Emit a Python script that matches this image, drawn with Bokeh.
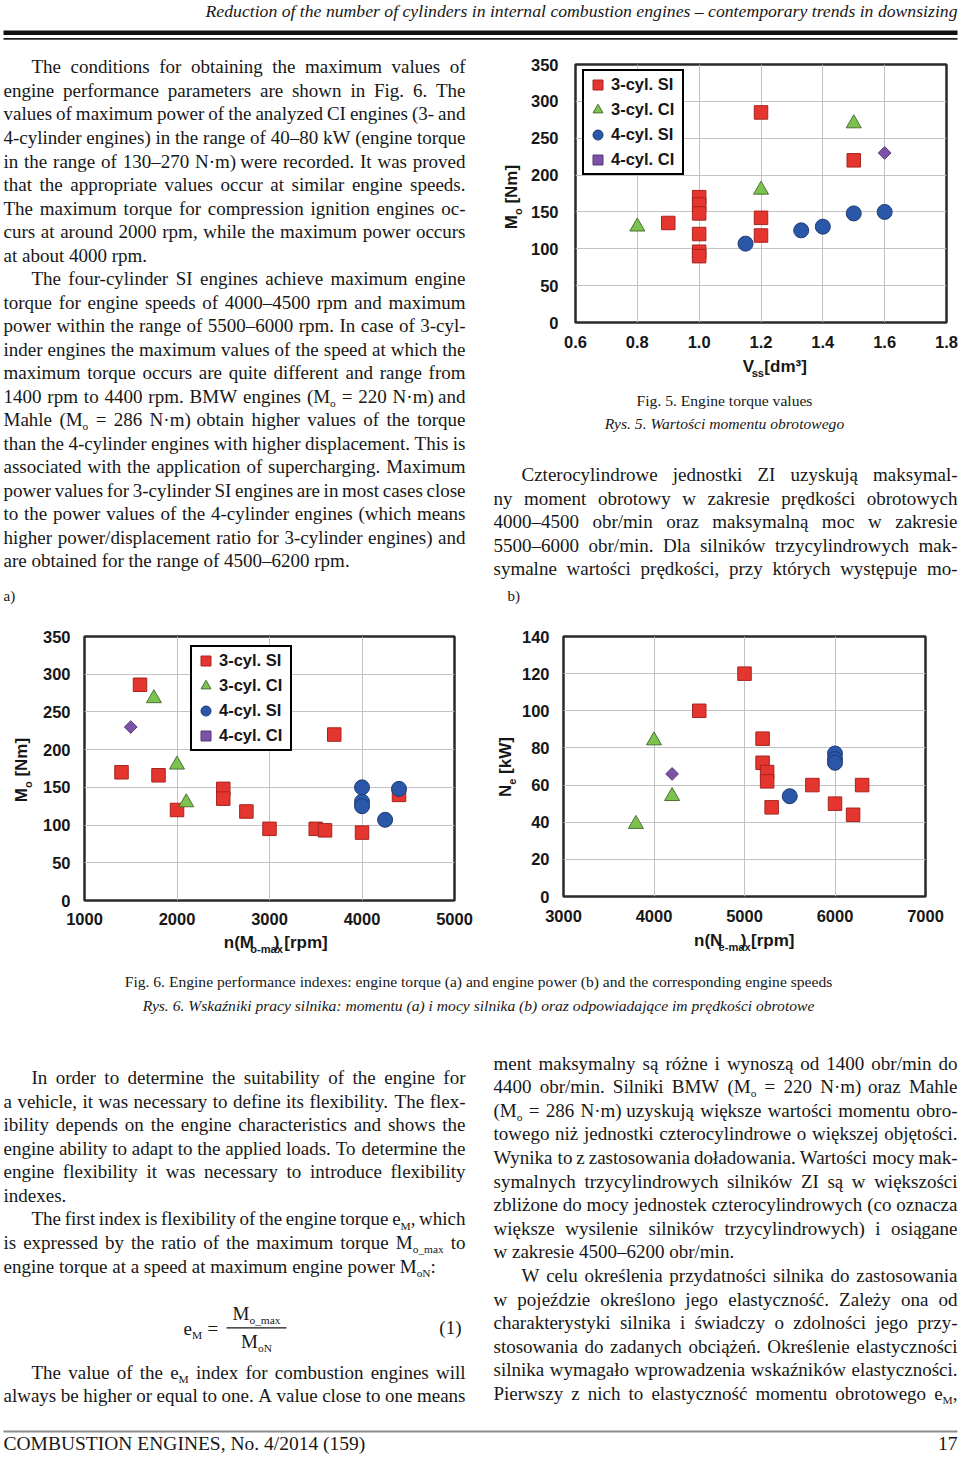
import re
import math
from bokeh.plotting import figure
from bokeh.models import (Range1d, ColumnDataSource, Legend, LegendItem,
                          FixedTicker, NumeralTickFormatter)
from bokeh.layouts import row, column
from bokeh.core.properties import value
from bokeh.embed import file_html
from bokeh.resources import INLINE

# ---------------------------------------------------------------- chart data
series_names = ["3-cyl. SI", "3-cyl. CI", "4-cyl. SI", "4-cyl. CI"]

# Fig. 5  engine torque [Nm] vs displacement [dm3]
f5_si3_v = [0.9, 1.0, 1.0, 1.0, 1.0, 1.0, 1.0, 1.2, 1.2, 1.2, 1.5]
f5_si3_m = [135, 170, 160, 148, 120, 96, 90, 285, 142, 118, 220]
f5_ci3_v = [0.8, 1.2, 1.5]
f5_ci3_m = [130, 180, 270]
f5_si4_v = [1.15, 1.33, 1.4, 1.5, 1.6]
f5_si4_m = [107, 125, 130, 148, 150]
f5_ci4_v = [1.6]
f5_ci4_m = [230]
f5_xticks = [0.6, 0.8, 1.0, 1.2, 1.4, 1.6, 1.8]
f5_yticks = [0, 50, 100, 150, 200, 250, 300, 350]

# Fig. 6a  max torque [Nm] vs speed of max torque [rpm]
a_si3_n = [1400, 1600, 1800, 2000, 2500, 2500, 2750, 3000, 3500, 3600, 3700, 4000, 4400]
a_si3_m = [170, 286, 166, 120, 148, 135, 118, 95, 95, 93, 220, 90, 140]
a_ci3_n = [1750, 2000, 2100]
a_ci3_m = [268, 180, 130]
a_si4_n = [4000, 4000, 4000, 4250, 4400]
a_si4_m = [150, 131, 125, 107, 148]
a_ci4_n = [1500]
a_ci4_m = [230]
a_xticks = [1000, 2000, 3000, 4000, 5000]
a_yticks = [0, 50, 100, 150, 200, 250, 300, 350]

# Fig. 6b  max power [kW] vs speed of max power [rpm]
b_si3_n = [4500, 5000, 5200, 5200, 5250, 5250, 5300, 5750, 6000, 6200, 6300]
b_si3_p = [100, 120, 85, 72, 67, 62, 48, 60, 50, 44, 60]
b_ci3_n = [3800, 4000, 4200]
b_ci3_p = [39, 84, 54]
b_si4_n = [5500, 6000, 6000, 6000]
b_si4_p = [54, 77, 74, 72]
b_ci4_n = [4200]
b_ci4_p = [66]
b_xticks = [3000, 4000, 5000, 6000, 7000]
b_yticks = [0, 20, 40, 60, 80, 100, 120, 140]

# ---------------------------------------------------------------- page text
header_text = ("Reduction of the number of cylinders in internal combustion "
               "engines – contemporary trends in downsizing")

left_top_lines = [
    "> The conditions for obtaining the maximum values of",
    "engine performance parameters are shown in Fig. 6. The",
    "values of maximum power of the analyzed CI engines (3- and",
    "4-cylinder engines) in the range of 40–80 kW (engine torque",
    "in the range of 130–270 N·m) were recorded. It was proved",
    "that the appropriate values occur at similar engine speeds.",
    "The maximum torque for compression ignition engines oc-",
    "curs at around 2000 rpm, while the maximum power occurs",
    "at about 4000 rpm. ¶",
    "> The four-cylinder SI engines achieve maximum engine",
    "torque for engine speeds of 4000–4500 rpm and maximum",
    "power within the range of 5500–6000 rpm. In case of 3-cyl-",
    "inder engines the maximum values of the speed at which the",
    "maximum torque occurs are quite different and range from",
    "1400 rpm to 4400 rpm. BMW engines (M_{o} = 220 N·m) and",
    "Mahle (M_{o} = 286 N·m) obtain higher values of the torque",
    "than the 4-cylinder engines with higher displacement. This is",
    "associated with the application of supercharging. Maximum",
    "power values for 3-cylinder SI engines are in most cases close",
    "to the power values of the 4-cylinder engines (which means",
    "higher power/displacement ratio for 3-cylinder engines) and",
    "are obtained for the range of 4500–6200 rpm. ¶",
]

right_top_lines = [
    "> Czterocylindrowe jednostki ZI uzyskują maksymal-",
    "ny moment obrotowy w zakresie prędkości obrotowych",
    "4000–4500 obr/min oraz maksymalną moc w zakresie",
    "5500–6000 obr/min. Dla silników trzycylindrowych mak-",
    "symalne wartości prędkości, przy których występuje mo-",
]

fig5_caption = "Fig. 5. Engine torque values"
fig5_caption_pl = "Rys. 5. Wartości momentu obrotowego"
fig6_caption = ("Fig. 6. Engine performance indexes: engine torque (a) and engine "
                "power (b) and the corresponding engine speeds")
fig6_caption_pl = ("Rys. 6. Wskaźniki pracy silnika: momentu (a) i mocy silnika (b) "
                   "oraz odpowiadające im prędkości obrotowe")

left_bottom_lines = [
    "> In order to determine the suitability of the engine for",
    "a vehicle, it was necessary to define its flexibility. The flex-",
    "ibility depends on the engine characteristics and shows the",
    "engine ability to adapt to the applied loads. To determine the",
    "engine flexibility it was necessary to introduce flexibility",
    "indexes. ¶",
    "> The first index is flexibility of the engine torque e_{M}, which",
    "is expressed by the ratio of the maximum torque M_{o_max} to",
    "engine torque at a speed at maximum engine power M_{oN}: ¶",
]
left_bottom_lines2 = [
    "> The value of the e_{M} index for combustion engines will",
    "always be higher or equal to one. A value close to one means",
]
right_bottom_lines = [
    "ment maksymalny są różne i wynoszą od 1400 obr/min do",
    "4400 obr/min. Silniki BMW (M_{o} = 220 N·m) oraz Mahle",
    "(M_{o} = 286 N·m) uzyskują większe wartości momentu obro-",
    "towego niż jednostki czterocylindrowe o większej objętości.",
    "Wynika to z zastosowania doładowania. Wartości mocy mak-",
    "symalnych trzycylindrowych silników ZI są w większości",
    "zbliżone do mocy jednostek czterocylindrowych (co oznacza",
    "większe wysilenie silników trzycylindrowych) i osiągane",
    "w zakresie 4500–6200 obr/min. ¶",
    "> W celu określenia przydatności silnika do zastosowania",
    "w pojeździe określono jego elastyczność. Zależy ona od",
    "charakterystyki silnika i świadczy o zdolności jego przy-",
    "stosowania do zadanych obciążeń. Określenie elastyczności",
    "silnika wymagało wprowadzenia wskaźników elastyczności.",
    "Pierwszy z nich to elastyczność momentu obrotowego e_{M},",
]
footer_left = "COMBUSTION ENGINES, No. 4/2014 (159)"
footer_right = "17"

# ---------------------------------------------------------------- helpers
SX = 960 / 960
SY = 1458 / 1462


def PX(v):
    return int(round(v * SX))


def PY(v):
    return int(round(v * SY))


INK = "#171717"
SERIF = "Liberation Serif"
SANS = "Liberation Sans"
BODY = 19.0
SUBR = 0.6
KB = 0.34   # baseline correction (fraction of font size)

TIMES = {" ": 250, "!": 333, "(": 333, ")": 333, ",": 250, "-": 333, ".": 250,
         "/": 278, ":": 278, ";": 278, "=": 564, "?": 444, "–": 500, "·": 250,
         "A": 722, "B": 667, "C": 667, "D": 722, "E": 611, "F": 556, "G": 722,
         "H": 722, "I": 333, "J": 389, "K": 722, "L": 611, "M": 889, "N": 722,
         "O": 722, "P": 556, "Q": 722, "R": 667, "S": 556, "T": 611, "U": 722,
         "V": 722, "W": 944, "X": 722, "Y": 722, "Z": 611, "_": 500,
         "a": 444, "b": 500, "c": 444, "d": 500, "e": 444, "f": 333, "g": 500,
         "h": 500, "i": 278, "j": 278, "k": 500, "l": 278, "m": 778, "n": 500,
         "o": 500, "p": 500, "q": 500, "r": 333, "s": 389, "t": 278, "u": 500,
         "v": 500, "w": 722, "x": 500, "y": 500, "z": 444,
         "ą": 444, "ę": 444, "ć": 444, "ł": 278, "ń": 500, "ó": 500, "ś": 389,
         "ź": 444, "ż": 444, "Ł": 611, "Ś": 556, "Ż": 611, "Ó": 722}
SANSB = {" ": 278, "(": 333, ")": 333, "-": 333, ".": 278, "[": 333, "]": 333,
         "³": 333, "C": 722, "I": 278, "M": 833, "N": 722, "S": 667, "V": 667,
         "W": 944, "a": 556, "c": 556, "d": 611, "e": 556, "k": 556, "l": 278,
         "m": 889, "n": 611, "o": 611, "p": 611, "r": 389, "s": 556, "x": 556,
         "y": 556}


def tw(s, table=TIMES):
    return sum(table.get(c, 500) for c in s) / 1000.0


def parse(word):
    parts = re.split(r"_\{(.*?)\}", word)
    return [(t, i % 2 == 1) for i, t in enumerate(parts) if t]


class Layer:
    def __init__(self, sx, sy):
        self.groups = {}
        self.sx = sx
        self.sy = sy

    def add(self, x, y, text, font=SERIF, size=BODY, style="normal",
            align="left", angle=0.0, color=INK):
        if angle == 0.0:
            y = y - KB * size / self.sy
        else:
            x = x - KB * size / self.sx
        key = (font, round(size, 2), style, align, angle, color)
        g = self.groups.setdefault(key, {"x": [], "y": [], "text": []})
        g["x"].append(x)
        g["y"].append(y)
        g["text"].append(text)

    def draw(self, p):
        for (font, size, style, align, angle, color), g in self.groups.items():
            p.text(x="x", y="y", text="text", source=ColumnDataSource(g),
                   text_font=value(font), text_font_size=value(f"{size}px"),
                   text_font_style=value(style), text_align=value(align),
                   text_baseline=value("alphabetic"), angle=angle,
                   text_color=value(color))


def text_fig(x0, x1, y0, y1):
    w = PX(x1) - PX(x0)
    h = PY(y1) - PY(y0)
    p = figure(width=w, height=h, x_range=Range1d(x0, x1), y_range=Range1d(y1, y0),
               output_backend="svg", toolbar_location=None, title=None,
               x_axis_location=None, y_axis_location=None, min_border=0)
    p.grid.visible = False
    p.outline_line_color = None
    p.background_fill_color = "white"
    p.border_fill_color = "white"
    return p, w / (x1 - x0), h / (y1 - y0)


def paragraph(L, lines, x0, x1, y_first, pitch, fs_px=BODY, indent=28):
    fsx = fs_px / L.sx
    fsy = fs_px / L.sy
    for i, raw in enumerate(lines):
        ind = raw.startswith("> ")
        last = raw.endswith(" ¶")
        txt = raw[2:] if ind else raw
        if last:
            txt = txt[:-2]
        words = [parse(w) for w in txt.split(" ")]
        ws = [sum(tw(t) * fsx * (SUBR if s else 1) for t, s in w) for w in words]
        start = x0 + (indent if ind else 0)
        if last or len(words) < 2:
            gap = 0.25 * fsx
        else:
            gap = (x1 - start - sum(ws)) / (len(words) - 1)
        yb = y_first + i * pitch
        x = start
        for w, wd in zip(words, ws):
            xx = x
            for t, s in w:
                if s:
                    L.add(xx, yb + 0.22 * fsy, t, size=round(fs_px * SUBR, 1))
                else:
                    L.add(xx, yb, t, size=fs_px)
                xx += tw(t) * fsx * (SUBR if s else 1)
            x += wd + gap


def vlabel(L, c, base, segs, size):
    """Rotated (bottom-to-top) axis label with a subscript."""
    sx, sy = L.sx, L.sy
    subsz = round(size * 0.65, 1)
    widths = [tw(t, SANSB) * size / sy * (0.65 if s else 1) for t, s in segs]
    pos = c + sum(widths) / 2
    for (t, s), w in zip(segs, widths):
        fs = subsz if s else size
        lead = len(t) - len(t.lstrip(" "))
        shift = lead * 0.278 * fs / sy
        xx = base + (0.24 * size / sx if s else 0)
        L.add(xx, pos - shift, t.lstrip(" "), font=SANS, size=fs, style="bold",
              angle=math.pi / 2)
        pos -= w


def hlabel(L, base, head, head_end, sub, sub_end, tail, tail_end, size):
    """Horizontal axis label; every part is anchored at its right end."""
    L.add(head_end, base, head, font=SANS, size=size, style="bold", align="right")
    L.add(sub_end, base + 0.24 * size / L.sy, sub, font=SANS, size=round(size * 0.65, 1),
          style="bold", align="right")
    L.add(tail_end, base, tail, font=SANS, size=size, style="bold", align="right")


STYLES = [
    dict(marker="square", size=13.5, fill_color="#e5352f", line_color="#a82420", angle=0.0),
    dict(marker="triangle", size=15, fill_color="#7cc24e", line_color="#4d7036", angle=0.0),
    dict(marker="circle", size=15, fill_color="#2b57a8", line_color="#1d3c78", angle=0.0),
    dict(marker="square", size=9, fill_color="#7b52a6", line_color="#573a7c", angle=math.pi / 4),
]


def chart(box, frame, xr, yr, xticks, yticks, xfmt, series, xstand, ystand, legend_at=None):
    x0, x1, y0, y1 = box
    fx0, fx1, fy0, fy1 = frame
    p = figure(width=PX(x1) - PX(x0), height=PY(y1) - PY(y0),
               x_range=Range1d(*xr), y_range=Range1d(*yr),
               output_backend="svg", toolbar_location=None, title=None,
               min_border_left=PX(fx0) - PX(x0), min_border_right=PX(x1) - PX(fx1),
               min_border_top=PY(fy0) - PY(y0), min_border_bottom=PY(y1) - PY(fy1))
    p.background_fill_color = "white"
    p.border_fill_color = "white"
    p.xaxis.ticker = FixedTicker(ticks=xticks)
    p.yaxis.ticker = FixedTicker(ticks=yticks)
    if xfmt:
        p.xaxis.formatter = NumeralTickFormatter(format=xfmt)
    for ax in p.axis:
        ax.axis_line_color = None
        ax.major_tick_line_color = None
        ax.minor_tick_line_color = None
        ax.major_tick_out = 0
        ax.major_tick_in = 0
        ax.minor_tick_out = 0
        ax.minor_tick_in = 0
        ax.major_label_text_font = SANS
        ax.major_label_text_font_size = "16.5px"
        ax.major_label_text_font_style = "bold"
        ax.major_label_text_color = INK
    p.xaxis.major_label_standoff = xstand
    p.yaxis.major_label_standoff = ystand
    p.grid.grid_line_color = "#c3c3c3"
    p.grid.grid_line_width = 1
    p.outline_line_color = "#2a2a2a"
    p.outline_line_width = 2.5
    rends = []
    for (xs, ys), st in zip(series, STYLES):
        src = ColumnDataSource(dict(x=xs, y=ys))
        r = p.scatter(x="x", y="y", source=src, marker=st["marker"], size=st["size"],
                      fill_color=st["fill_color"], line_color=st["line_color"],
                      line_width=1, angle=st["angle"])
        rends.append(r)
    if legend_at is not None:
        items = [LegendItem(label=n, renderers=[r]) for n, r in zip(series_names, rends)]
        lg = Legend(items=items, location=legend_at, border_line_color="black",
                    border_line_width=2, border_line_alpha=1, background_fill_color="white",
                    background_fill_alpha=1, padding=1, spacing=0, margin=0,
                    glyph_width=25, glyph_height=25, label_height=25, label_width=70,
                    label_standoff=1,
                    label_text_font=SANS, label_text_font_size="16.5px",
                    label_text_font_style="bold", label_text_color=INK)
        p.add_layout(lg)
    return p


# ---------------------------------------------------------------- header
hdr, hsx, hsy = text_fig(0, 960, 0, 48)
L = Layer(hsx, hsy)
L.add(957, 16.5, header_text, size=17.7, style="italic", align="right")
L.draw(hdr)
hdr.quad(left=[3], right=[957], top=[30], bottom=[34.5], fill_color="#111111", line_color=None)
hdr.quad(left=[3], right=[957], top=[37.6], bottom=[39.3], fill_color="#222222", line_color=None)

# ---------------------------------------------------------------- section 1 left text
lt, lsx, lsy = text_fig(0, 485, 48, 612)
L = Layer(lsx, lsy)
paragraph(L, left_top_lines, 3, 465, 73.0, 23.6)
L.add(3, 603, "a)", size=15)
L.draw(lt)

# ---------------------------------------------------------------- Fig. 5
c5 = chart((527, 960, 48, 356), (575, 946, 64, 323), (0.6, 1.8), (0, 350),
           f5_xticks, f5_yticks, "0.0",
           [(f5_si3_v, f5_si3_m), (f5_ci3_v, f5_ci3_m), (f5_si4_v, f5_si4_m), (f5_ci4_v, f5_ci4_m)],
           13, 17, legend_at=(PX(582) - PX(575), PY(323) - PY(175)))
y5, y5sx, y5sy = text_fig(485, 527, 48, 380)
L = Layer(y5sx, y5sy)
vlabel(L, 197, 517, [("M", False), ("o", True), (" [Nm]", False)], 17)
L.draw(y5)
x5, x5sx, x5sy = text_fig(527, 960, 356, 380)
L = Layer(x5sx, x5sy)
hlabel(L, 373, "V", 735.5, "ss", 747, "[dm³]", 797, 17)
L.draw(x5)

rt, rsx, rsy = text_fig(485, 960, 380, 612)
L = Layer(rsx, rsy)
L.add(724, 406, fig5_caption, size=15.6, align="center")
L.add(724, 430, fig5_caption_pl, size=15.6, style="italic", align="center")
paragraph(L, right_top_lines, 493, 957, 482.0, 23.7)
L.add(507, 603, "b)", size=15)
L.draw(rt)

# ---------------------------------------------------------------- Fig. 6a
ca = chart((38, 480, 612, 933), (84, 454, 638, 902), (1000, 5000), (0, 350),
           a_xticks, a_yticks, None,
           [(a_si3_n, a_si3_m), (a_ci3_n, a_ci3_m), (a_si4_n, a_si4_m), (a_ci4_n, a_ci4_m)],
           12, 14, legend_at=(PX(190) - PX(84), PY(902) - PY(753)))
ya, yasx, yasy = text_fig(0, 38, 612, 965)
L = Layer(yasx, yasy)
vlabel(L, 772, 27, [("M", False), ("o", True), (" [Nm]", False)], 17)
L.draw(ya)
xa, xasx, xasy = text_fig(38, 480, 933, 965)
L = Layer(xasx, xasy)
hlabel(L, 951, "n(M", 240.5, "o-max", 275, ") [rpm]", 328.5, 17)
L.draw(xa)

# ---------------------------------------------------------------- Fig. 6b
cb = chart((518, 960, 612, 933), (561, 925, 638, 898), (3000, 7000), (0, 140),
           b_xticks, b_yticks, None,
           [(b_si3_n, b_si3_p), (b_ci3_n, b_ci3_p), (b_si4_n, b_si4_p), (b_ci4_n, b_ci4_p)],
           13, 14)
yb_, ybsx, ybsy = text_fig(480, 518, 612, 965)
L = Layer(ybsx, ybsy)
vlabel(L, 769, 511, [("N", False), ("e", True), (" [kW]", False)], 17)
L.draw(yb_)
xb, xbsx, xbsy = text_fig(518, 960, 933, 965)
L = Layer(xbsx, xbsy)
hlabel(L, 949, "n(N", 712, "e-max", 746.5, ") [rpm]", 800, 17)
L.draw(xb)

# ---------------------------------------------------------------- bottom section
bt, bsx, bsy = text_fig(0, 960, 965, 1462)
L = Layer(bsx, bsy)
L.add(478, 989, fig6_caption, size=15.6, align="center")
L.add(478, 1013, fig6_caption_pl, size=15.6, style="italic", align="center")
paragraph(L, left_bottom_lines, 3, 465, 1086.8, 23.6)
paragraph(L, left_bottom_lines2, 3, 465, 1382.0, 23.6)
paragraph(L, right_bottom_lines, 493, 957, 1072.3, 23.64)

# equation (1)
fsx = BODY / bsx
fsy = BODY / bsy
subfs = round(BODY * SUBR, 1)
L.add(183, 1338, "e", size=BODY)
L.add(183 + tw("e") * fsx, 1338 + 0.22 * fsy, "M", size=subfs)
L.add(207, 1338, "=", size=BODY)
num_w = tw("M") * fsx + tw("o_max") * fsx * SUBR
den_w = tw("M") * fsx + tw("oN") * fsx * SUBR
cxf = 256
L.add(cxf - num_w / 2, 1323, "M", size=BODY)
L.add(cxf - num_w / 2 + tw("M") * fsx, 1323 + 0.2 * fsy, "o_max", size=subfs)
L.add(cxf - den_w / 2, 1351, "M", size=BODY)
L.add(cxf - den_w / 2 + tw("M") * fsx, 1351 + 0.22 * fsy, "oN", size=subfs)
L.add(461, 1337, "(1)", size=BODY, align="right")

# footer
L.add(3, 1454, footer_left, size=19.5)
L.add(957, 1454, footer_right, size=19.5, align="right")
L.draw(bt)
bt.quad(left=[226], right=[286], top=[1330.6], bottom=[1331.8], fill_color=INK, line_color=None)
bt.quad(left=[3], right=[957], top=[1434], bottom=[1436], fill_color="#8c8c8c", line_color=None)

# ---------------------------------------------------------------- layout
sec1 = row(lt, column(row(y5, column(c5, x5)), rt))
sec2 = row(ya, column(ca, xa), yb_, column(cb, xb))
page = column(hdr, sec1, sec2, bt)

open("out.html", "w").write(file_html(page, INLINE))
